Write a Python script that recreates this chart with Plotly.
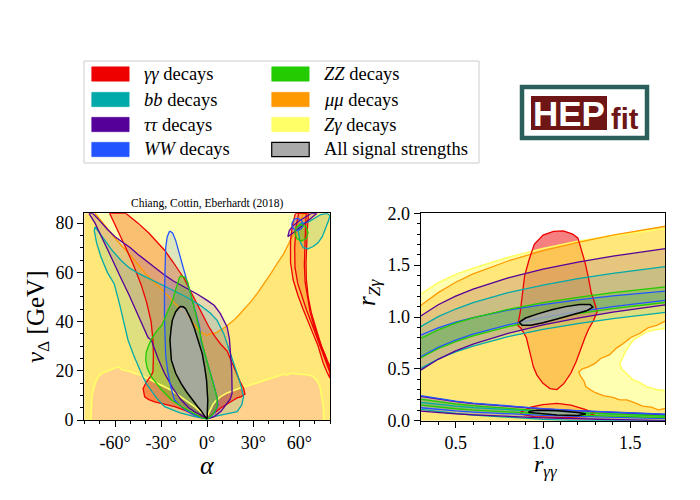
import plotly.graph_objects as go

# ---------------- colours ----------------
COL = {"gg": "#EE0000", "bb": "#00AAAA", "tt": "#550099", "WW": "#2255FF",
       "ZZ": "#22CC00", "mm": "#FF9900", "Zg": "#FFFF66", "all": "#AAAAAA"}
ALPHA = {"gg": 0.5, "bb": 0.13, "tt": 0.15, "WW": 0.15, "ZZ": 0.25,
         "mm": 0.45, "Zg": 0.5, "all": 0.8}

legend_keys = ["gg", "bb", "tt", "WW", "ZZ", "mm", "Zg", "all"]
legend_labels = ["<i>γγ</i> decays", "<i>bb</i> decays", "<i>ττ</i> decays",
                 "<i>WW</i> decays", "<i>ZZ</i> decays", "<i>μμ</i> decays",
                 "<i>Zγ</i> decays", "All signal strengths"]

# ---------------- left panel data: (alpha [deg], v_Delta [GeV]) ----------------
left_x_ticks = [-60, -30, 0, 30, 60]
left_x_ticktext = ["-60°", "-30°", "0°", "30°", "60°"]
left_y_ticks = [0, 20, 40, 60, 80]

# Z gamma boundary (region below it excluded)
L_zg_curve = [(-75.7, 0), (-75.5, 5), (-75, 10), (-73, 14.8), (-71, 17.5), (-68.7, 18.9),
              (-65, 19.8), (-62, 20.5), (-58, 21.6), (-55, 20.3), (-51, 19.8), (-47, 18.9),
              (-43, 18.2), (-40, 17.3), (-36.3, 16.2), (-32, 14.9), (-28, 13.6), (-23.3, 12.1),
              (-19, 10.2), (-15, 8.4), (-11, 6.8), (-8.2, 5.4), (-4, 3.2), (-1, 1.8), (0, 1.5),
              (2, 4), (4, 6.5), (6, 8), (8.6, 9.4), (13, 11), (17.2, 12.1), (22, 13.1),
              (28, 14.2), (33, 15.2), (38.9, 16.2), (44, 17.3), (49.7, 18.6), (52, 18.3),
              (55, 19), (58, 18.7), (60.5, 18.6), (65, 18.4), (69, 17.8), (71.5, 16),
              (73.5, 13.5), (74.8, 9), (75.6, 5.4), (76, 0)]
L_zg_corners_start = [(-80, 84), (-80, 0)]
L_zg_corners_end = [(80, 0), (80, 84)]

# mu mu boundary (region above it excluded)
L_mm_curve = [(-73, 84), (-68, 80), (-62, 75.5), (-56, 71), (-50, 67), (-45, 63.2), (-40, 59.5),
              (-35, 56.3), (-31, 54), (-27, 51.6), (-24, 49.6), (-21, 47.3), (-18, 45.6),
              (-14.7, 43.7), (-12, 41.5), (-9, 39.2), (-6.1, 37), (-3, 35.3), (0, 34.4),
              (2, 35.1), (4.7, 35.2), (6.5, 35.7), (9, 36.6), (11.5, 37.6), (14, 38.9),
              (17.3, 40.5), (21, 42.9), (25, 45.6), (29.2, 48.6), (33, 51.8), (36, 54.5),
              (38.9, 56.7), (42, 60), (46, 64), (49.7, 67.4), (53, 71.5), (56, 75.5),
              (58.4, 78.2), (61, 81.5), (62.7, 83.6), (64, 84)]
L_mm_corners_start = [(-80, 0), (-80, 84)]
L_mm_corners_end = [(80, 84), (80, 0)]

# gamma gamma, central region
L_gg_main = [(-53, 84), (-45, 80), (-38, 76), (-32, 72), (-27.7, 69), (-22, 64), (-18, 60.2),
             (-14.7, 57.2), (-11, 52.5), (-7, 47.5), (-3, 42.5), (1, 38), (5, 34), (8.6, 31),
             (13, 28), (16, 23.5), (19, 19), (21.5, 15.5), (23.8, 12.8), (24.6, 10.5),
             (22, 9.4), (19.5, 9), (17.3, 8.1), (13, 6.5), (9, 5), (5, 3), (2, 1.6), (0.5, 0.8),
             (-3, 1.2), (-8.2, 2), (-14, 3.8), (-21.2, 5.4), (-28, 6.5), (-34.2, 7.4),
             (-38, 8.3), (-40.7, 9.4), (-41.7, 12.8), (-39.5, 15.5), (-36.5, 18), (-35.3, 19.6),
             (-35, 26), (-35.3, 32.4), (-36.5, 40), (-39.5, 48), (-43, 55), (-48, 63),
             (-53, 70), (-58.5, 77.4), (-62, 82), (-63.5, 84)]
# gamma gamma, thin band at large alpha (outer and inner contour)
L_gg_tr_outer = [(57.5, 84), (55.5, 79), (54.3, 73), (54.3, 64), (56, 57), (59.2, 50.5),
                 (62.5, 45), (65.7, 39.7), (69, 35), (72.2, 30.2), (75.4, 23.5), (78, 19.5),
                 (80, 17), (80, 22), (78.7, 23.5), (76.5, 27), (74.3, 30.2), (71, 37),
                 (67.8, 43.7), (65.8, 50), (64.6, 57.2), (64.4, 64), (64.6, 70.7), (65.2, 77),
                 (66, 84)]
L_gg_tr_inner = [(59.5, 84), (57.8, 78), (57, 70), (57.2, 62), (59, 55.5), (61.8, 50),
                 (64.8, 44.5), (68.2, 39), (71.5, 33.5), (75, 27), (78, 21.8), (80, 19.2),
                 (80, 20.5), (77.5, 24.8), (75, 28.8), (72, 33.8), (69.5, 38.5), (67, 44),
                 (65.4, 49.5), (63.8, 56), (63.3, 63), (63.5, 70), (64, 77), (64.5, 84)]

# b b
L_bb = [(-73, 78.5), (-73.5, 77), (-72, 72), (-69, 66), (-65, 60), (-60.5, 55.3), (-57, 47),
        (-54, 39), (-51.5, 32.4), (-48, 26.5), (-45, 22), (-42, 17.8), (-39.6, 14.8),
        (-36, 11.5), (-33, 9), (-27.7, 5.4), (-18, 3), (-8.2, 1.4), (-3, 0.6), (0, 0.4),
        (4.3, 1.4), (10, 2), (15, 2.8), (19.5, 3.4), (22.5, 6), (23.7, 9.4), (22, 14),
        (19.5, 18.9), (17, 23.5), (15, 27), (13, 31), (10.8, 35.1), (6.5, 40.5), (2, 43.5),
        (-4.3, 46.5), (-13, 49.8), (-20, 52), (-28, 54.5), (-36.3, 57.2), (-45.4, 59.8),
        (-51, 62), (-56, 64.8), (-62, 69), (-66, 72.5), (-69, 75.5), (-71.5, 77.5)]
L_bb_tr = [(59, 78), (60.5, 72.5), (62.5, 70), (65.7, 69.6), (69, 70.5), (72.2, 72),
           (75, 74.5), (77, 77.5), (79, 81), (80, 83), (78, 84), (74, 83.5), (70, 82),
           (66, 80.5), (62, 80), (60, 79.5)]

# tau tau
L_tt = [(-77, 84), (-74.5, 84), (-70, 81), (-65, 77.5), (-60, 74.5), (-56, 72.8), (-50, 70),
        (-45, 67.3), (-40, 64.8), (-34.6, 62), (-28, 59), (-22, 56.5), (-13, 53.5), (-6, 51),
        (0, 48.6), (4.7, 46.5), (8.6, 43.2), (11, 40.5), (13, 37.8), (14.5, 33), (15.2, 27),
        (16, 20), (16.2, 13.5), (16.2, 10.8), (15, 8.5), (13, 6.7), (9, 3.5), (4.3, 1.3),
        (0, 0.5), (-4, 2), (-8, 3.3), (-12, 5), (-16.9, 8.1), (-22, 12.5), (-27.7, 18.9),
        (-32, 25), (-36.3, 32.4), (-38.5, 33.5), (-42, 38.5), (-46, 44.5), (-51, 51),
        (-55.8, 57.2), (-60, 63), (-65, 69.5), (-70, 76), (-73, 80)]
L_tt_tr = [(52.5, 74.5), (55, 75.5), (58, 77), (62, 79), (66, 81), (70, 83), (71.5, 84),
           (68, 84), (64, 82.5), (60, 81), (56, 79), (53.5, 77)]

# W W
L_WW = [(-24.4, 76.8), (-22.5, 76), (-20.5, 73), (-18, 67), (-15, 60), (-12.5, 55),
        (-10.4, 50.5), (-7.5, 44), (-5, 38), (-3.9, 32), (-1, 26), (2, 20), (4.5, 14),
        (6.5, 9), (7, 6), (5, 3), (2, 1.2), (0, 0.5), (-4, 1), (-8.2, 2), (-14, 4),
        (-18, 6), (-21.2, 8), (-23.5, 13), (-25.5, 19), (-27, 26), (-27.5, 33), (-27.8, 42),
        (-27.8, 52), (-27.6, 62), (-27, 70), (-26, 74.5)]
L_WW_tr = [(55, 79.5), (56.5, 81.5), (59, 82), (61.5, 81), (62.5, 79), (61, 77.5), (58, 77),
           (56, 77.8)]

# Z Z
L_ZZ = [(-16.9, 58.6), (-14.5, 58), (-12.6, 55.8), (-10.5, 51), (-8.2, 45), (-5.8, 39),
        (-3.9, 32.9), (-1.5, 27), (1.5, 20), (4.5, 14), (6.5, 9), (6.5, 5.4), (4, 2.5),
        (1, 0.8), (0, 0.5), (-3, 0.8), (-8.6, 2.7), (-16, 5.2), (-23.3, 8.1), (-30, 12.5),
        (-36.3, 17.5), (-39, 21), (-40, 24.3), (-39.7, 27.5), (-38, 30.5), (-36.3, 32.9),
        (-33, 36), (-29.5, 38.5), (-27.7, 41), (-25, 45), (-22.3, 49.1), (-20.5, 53),
        (-19.5, 55.5), (-18, 58)]
L_ZZ_tr = [(57.1, 76.1), (58, 78.5), (61.4, 79.5), (64.5, 78.5), (65.7, 76.1), (64.5, 73.7),
           (61.4, 72.7), (58.3, 73.7)]

# all signal strengths
L_all = [(-17.7, 46.1), (-15.5, 46), (-14, 45.2), (-11, 41.5), (-8.6, 37.8), (-6, 32.5),
         (-3.2, 27), (-1.5, 21), (-0.4, 16.2), (0.4, 8.1), (0.3, 3), (0, 0.5), (-1, 1),
         (-2, 2), (-4, 3.8), (-6.1, 5.4), (-10, 8.5), (-13.5, 11.5), (-16.9, 14.8),
         (-20.5, 19), (-23.3, 24.3), (-24.2, 32.4), (-23.5, 37), (-22.7, 40.5), (-20.5, 44)]

# ---------------- right panel data: (r_gammagamma, r_Zgamma) ----------------
right_x_ticks = [0.5, 1.0, 1.5]
right_y_ticks = [0.0, 0.5, 1.0, 1.5, 2.0]
rx = [0.3, 0.4, 0.5, 0.6, 0.8, 1.0, 1.2, 1.4, 1.7]

R_zg_top = [1.22, 1.33, 1.41, 1.47, 1.575, 1.66, 1.73, 1.785, 1.855]
R_mm_top = [1.11, 1.235, 1.335, 1.415, 1.54, 1.64, 1.72, 1.79, 1.875]
R_tt_up_hi = [1.01, 1.118, 1.201, 1.269, 1.377, 1.461, 1.529, 1.587, 1.66]
R_tt_up_lo = [0.488, 0.592, 0.673, 0.739, 0.843, 0.924, 0.99, 1.046, 1.116]
R_bb_up_hi = [0.907, 1.003, 1.077, 1.138, 1.234, 1.308, 1.369, 1.42, 1.485]
R_bb_up_lo = [0.505, 0.595, 0.664, 0.72, 0.81, 0.88, 0.936, 0.985, 1.045]
R_WW_up_hi = [0.826, 0.896, 0.951, 0.995, 1.066, 1.12, 1.165, 1.203, 1.25]
R_WW_up_lo = [0.617, 0.707, 0.777, 0.834, 0.924, 0.994, 1.051, 1.099, 1.16]
R_ZZ_up_hi = [0.794, 0.876, 0.94, 0.992, 1.074, 1.138, 1.19, 1.234, 1.29]
R_ZZ_up_lo = [0.605, 0.694, 0.762, 0.818, 0.907, 0.976, 1.032, 1.08, 1.14]
R_tt_lo_hi = [0.235, 0.206, 0.184, 0.165, 0.136, 0.114, 0.095, 0.08, 0.06]
R_tt_lo_lo = [0.093, 0.078, 0.066, 0.056, 0.04, 0.028, 0.019, 0.01, 0.0]
R_WW_lo_hi = [0.241, 0.211, 0.188, 0.17, 0.14, 0.117, 0.098, 0.082, 0.062]
R_WW_lo_lo = [0.125, 0.108, 0.094, 0.083, 0.066, 0.052, 0.041, 0.032, 0.02]
R_ZZ_lo_hi = [0.209, 0.182, 0.161, 0.144, 0.116, 0.095, 0.078, 0.063, 0.045]
R_ZZ_lo_lo = [0.15, 0.13, 0.115, 0.102, 0.082, 0.067, 0.054, 0.043, 0.03]
R_bb_lo_hi = [0.177, 0.156, 0.14, 0.126, 0.105, 0.089, 0.076, 0.064, 0.05]
R_bb_lo_lo = [0.11, 0.088, 0.07, 0.055, 0.032, 0.013, 0.0, 0.0, 0.0]

# mu mu excluded pocket (boundary from right edge, around and back)
R_mm_hole = [(1.7, 0.12), (1.66, 0.105), (1.62, 0.13), (1.57, 0.14), (1.53, 0.17),
             (1.48, 0.2), (1.44, 0.2), (1.4, 0.225), (1.35, 0.24), (1.3, 0.27), (1.27, 0.3),
             (1.245, 0.33), (1.235, 0.38), (1.215, 0.43), (1.205, 0.47), (1.225, 0.5),
             (1.26, 0.52), (1.3, 0.555), (1.33, 0.6), (1.38, 0.635), (1.42, 0.7), (1.46, 0.745),
             (1.5, 0.8), (1.555, 0.843), (1.6, 0.895), (1.65, 0.92), (1.7, 0.96)]
# Z gamma excluded pocket
R_zg_hole = [(1.7, 0.29), (1.65, 0.3), (1.594, 0.328), (1.55, 0.37), (1.517, 0.392),
             (1.48, 0.45), (1.45, 0.5), (1.44, 0.553), (1.455, 0.61), (1.48, 0.69),
             (1.517, 0.778), (1.555, 0.82), (1.594, 0.858), (1.65, 0.88), (1.7, 0.89)]

R_gg_up = [(1.116, 1.83), (1.17, 1.8), (1.2, 1.76), (1.22, 1.65), (1.24, 1.53), (1.26, 1.38),
           (1.275, 1.24), (1.295, 1.14), (1.31, 1.05), (1.29, 0.97), (1.26, 0.88),
           (1.24, 0.8), (1.22, 0.7), (1.19, 0.57), (1.16, 0.46), (1.12, 0.36), (1.08, 0.3),
           (1.04, 0.31), (1.0, 0.36), (0.965, 0.44), (0.945, 0.52), (0.925, 0.665),
           (0.905, 0.8), (0.875, 0.89), (0.855, 0.92), (0.87, 1.05), (0.88, 1.2),
           (0.895, 1.4), (0.92, 1.55), (0.95, 1.7), (1.0, 1.79), (1.06, 1.825)]
R_gg_lo = [(0.87, 0.08), (0.93, 0.13), (1.0, 0.155), (1.08, 0.168), (1.16, 0.15),
           (1.24, 0.11), (1.3, 0.07), (1.25, 0.04), (1.1, 0.03), (0.95, 0.04), (0.88, 0.06)]

R_all_up = [(0.865, 0.95), (0.9, 0.99), (0.97, 1.03), (1.05, 1.07), (1.13, 1.1),
            (1.21, 1.12), (1.27, 1.12), (1.285, 1.095), (1.25, 1.06), (1.17, 1.02),
            (1.08, 0.98), (1.0, 0.945), (0.93, 0.92), (0.88, 0.92)]
R_all_lo = [(0.92, 0.09), (0.97, 0.1), (1.08, 0.095), (1.2, 0.08), (1.245, 0.065),
            (1.2, 0.05), (1.08, 0.055), (0.97, 0.07), (0.92, 0.08)]


# ---------------- helpers ----------------
def rgba(hexc, a):
    h = hexc.lstrip("#")
    r, g, b = int(h[0:2], 16), int(h[2:4], 16), int(h[4:6], 16)
    return f"rgba({r},{g},{b},{a})"


fig = go.Figure()


def fill(pts, key, ax):
    fig.add_trace(go.Scatter(
        x=[p[0] for p in pts], y=[p[1] for p in pts], mode="lines", fill="toself",
        fillcolor=rgba(COL[key], ALPHA[key]), line=dict(width=0, color=COL[key]),
        xaxis=ax[0], yaxis=ax[1], hoverinfo="skip", showlegend=False))


def outline(pts, key, ax, closed=True, width=1.3, color=None):
    xs = [p[0] for p in pts]
    ys = [p[1] for p in pts]
    if closed:
        xs = xs + xs[:1]
        ys = ys + ys[:1]
    fig.add_trace(go.Scatter(
        x=xs, y=ys, mode="lines", line=dict(width=width, color=color or COL[key]),
        xaxis=ax[0], yaxis=ax[1], hoverinfo="skip", showlegend=False))


def band(xs, hi, lo):
    return list(zip(xs, hi)) + list(zip(xs[::-1], lo[::-1]))


LA = ("x", "y")
RA = ("x2", "y2")

# ---- left panel ----
L_mm_poly = L_mm_corners_start + L_mm_curve + L_mm_corners_end
L_zg_poly = L_zg_corners_start + L_zg_curve + L_zg_corners_end
for pts, key in [(L_gg_main, "gg"), (L_gg_tr_outer, "gg"), (L_gg_tr_inner, "gg"),
                 (L_mm_poly, "mm"), (L_zg_poly, "Zg"),
                 (L_bb, "bb"), (L_bb_tr, "bb"), (L_tt, "tt"), (L_tt_tr, "tt"),
                 (L_WW, "WW"), (L_WW_tr, "WW"), (L_ZZ, "ZZ"), (L_ZZ_tr, "ZZ")]:
    fill(pts, key, LA)
outline(L_mm_curve, "mm", LA, closed=False)
outline(L_zg_curve, "Zg", LA, closed=False, width=1.6)
for pts, key in [(L_gg_main, "gg"), (L_gg_tr_outer, "gg"), (L_gg_tr_inner, "gg"),
                 (L_bb, "bb"), (L_bb_tr, "bb"), (L_tt, "tt"), (L_tt_tr, "tt"),
                 (L_WW, "WW"), (L_WW_tr, "WW"), (L_ZZ, "ZZ"), (L_ZZ_tr, "ZZ")]:
    outline(pts, key, LA)
fill(L_all, "all", LA)
outline(L_all, "all", LA, color="black", width=1.5)

# ---- right panel ----
R_mm_curve = list(zip(rx, R_mm_top))
R_zg_curve = list(zip(rx, R_zg_top))
R_mm_poly = [(rx[0], 0), (rx[-1], 0)] + R_mm_hole + R_mm_curve[::-1]
R_zg_poly = [(rx[0], 0), (rx[-1], 0)] + R_zg_hole + R_zg_curve[::-1]
bands = [("bb", R_bb_up_hi, R_bb_up_lo), ("bb", R_bb_lo_hi, R_bb_lo_lo),
         ("tt", R_tt_up_hi, R_tt_up_lo), ("tt", R_tt_lo_hi, R_tt_lo_lo),
         ("WW", R_WW_up_hi, R_WW_up_lo), ("WW", R_WW_lo_hi, R_WW_lo_lo),
         ("ZZ", R_ZZ_up_hi, R_ZZ_up_lo), ("ZZ", R_ZZ_lo_hi, R_ZZ_lo_lo)]
fill(R_gg_up, "gg", RA)
fill(R_gg_lo, "gg", RA)
fill(R_mm_poly, "mm", RA)
fill(R_zg_poly, "Zg", RA)
for key, hi, lo in bands:
    fill(band(rx, hi, lo), key, RA)
outline(R_zg_curve, "Zg", RA, closed=False, width=1.6)
outline(R_zg_hole, "Zg", RA, closed=False, width=1.6)
outline(R_mm_curve, "mm", RA, closed=False)
outline(R_mm_hole, "mm", RA, closed=False)
outline(R_gg_up, "gg", RA)
outline(R_gg_lo, "gg", RA)
for key, hi, lo in bands:
    outline(list(zip(rx, hi)), key, RA, closed=False)
    outline(list(zip(rx, lo)), key, RA, closed=False)
for pts in (R_all_up, R_all_lo):
    fill(pts, "all", RA)
    outline(pts, "all", RA, color="black", width=1.5)

# ---------------- layout ----------------
W, H = 700, 500
FONT = "Liberation Serif"


def px(xp):
    return xp / W


def py(yp):
    return 1 - yp / H


axis_common = dict(showgrid=False, zeroline=False, showline=True, mirror=True,
                   linecolor="black", linewidth=1.2, ticks="outside", ticklen=6,
                   tickwidth=1, tickcolor="black", automargin=False,
                   tickfont=dict(family=FONT, size=18, color="black"))

fig.update_layout(
    width=W, height=H, margin=dict(l=0, r=0, t=0, b=0, autoexpand=False),
    paper_bgcolor="white", plot_bgcolor="white", showlegend=False,
    xaxis=dict(domain=[px(84.3), px(330)], range=[-80, 80], tickvals=left_x_ticks,
               ticktext=left_x_ticktext,
               minor=dict(dtick=10, tick0=0, ticks="outside", ticklen=3, tickcolor="black"),
               anchor="y", **axis_common),
    yaxis=dict(domain=[py(420), py(213.3)], range=[0, 84], tickvals=left_y_ticks,
               minor=dict(dtick=5, tick0=0, ticks="outside", ticklen=3, tickcolor="black"),
               anchor="x", **axis_common),
    xaxis2=dict(domain=[px(420.7), px(665.3)], range=[0.3, 1.7], tickvals=right_x_ticks,
                ticktext=[f"{v:.1f}" for v in right_x_ticks],
                minor=dict(dtick=0.1, tick0=0, ticks="outside", ticklen=3, tickcolor="black"),
                anchor="y2", **axis_common),
    yaxis2=dict(domain=[py(420.7), py(213.3)], range=[0, 2.0], tickvals=right_y_ticks,
                ticktext=[f"{v:.1f}" for v in right_y_ticks],
                minor=dict(dtick=0.1, tick0=0, ticks="outside", ticklen=3, tickcolor="black"),
                anchor="x2", **axis_common),
)

ann = []


def text(xp, yp, s, size, xanchor="center", yanchor="middle", angle=0, color="black",
         family=FONT):
    ann.append(dict(x=px(xp), y=py(yp), xref="paper", yref="paper", text=s, showarrow=False,
                    xanchor=xanchor, yanchor=yanchor, textangle=angle,
                    font=dict(family=family, size=size, color=color)))


text(207, 204, "Chiang, Cottin, Eberhardt (2018)", 11.5)
text(37, 317, "<i>v</i><sub>Δ</sub> [GeV]", 25, angle=-90)
text(207, 465, "<i>α</i>", 26)
text(368, 293, "<i>r</i><sub><i>Zγ</i></sub>", 25, angle=-90)
text(545, 466, "<i>r</i><sub><i>γγ</i></sub>", 24)

shapes = []
# legend frame
shapes.append(dict(type="rect", xref="paper", yref="paper", x0=px(84), x1=px(479),
                   y0=py(163), y1=py(61), line=dict(color="#CCCCCC", width=1),
                   fillcolor="white", layer="above"))
row_y = [74, 99.5, 124.5, 149.5]
col_x = [91.7, 271.7]
for i, (key, lab) in enumerate(zip(legend_keys, legend_labels)):
    c, r = divmod(i, 4)
    x0 = col_x[c]
    yc = row_y[r]
    shapes.append(dict(type="rect", xref="paper", yref="paper", x0=px(x0), x1=px(x0 + 37.5),
                       y0=py(yc + 7.2), y1=py(yc - 7.2), fillcolor=COL[key],
                       line=dict(color="black" if key == "all" else COL[key],
                                 width=1.2 if key == "all" else 0.5), layer="above"))
    text(x0 + 50, yc, lab, 18.5, xanchor="left")

# HEPfit logo
shapes.append(dict(type="rect", xref="paper", yref="paper", x0=px(522), x1=px(647),
                   y0=py(138), y1=py(87), line=dict(color="#2B5F5B", width=4.5),
                   fillcolor="white", layer="above"))
shapes.append(dict(type="rect", xref="paper", yref="paper", x0=px(531), x1=px(607),
                   y0=py(130), y1=py(96), line=dict(color="#6E1616", width=0),
                   fillcolor="#6E1616", layer="above"))
text(569, 114, "<b>HEP</b>", 35, color="white", family="Liberation Sans")
text(625, 119, "<b>fit</b>", 29, color="#6E1616", family="Liberation Sans")

fig.update_layout(annotations=ann, shapes=shapes)
fig.write_html("out.html", config={"displayModeBar": False},
               post_script="document.body.style.margin='0px';")
